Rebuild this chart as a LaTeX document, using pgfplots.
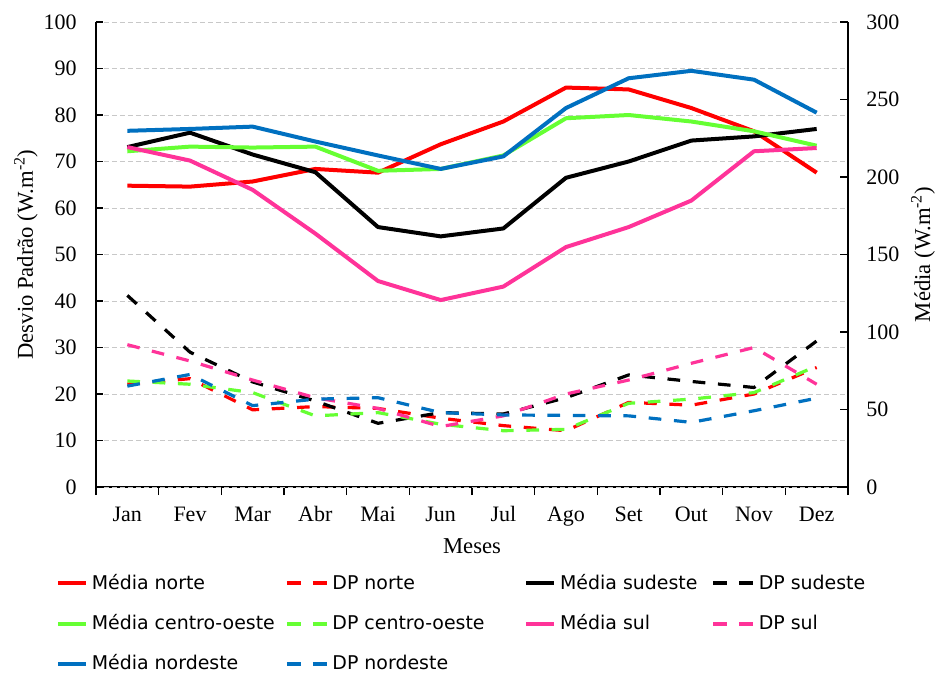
\documentclass[border=0pt]{standalone}
\usepackage{pgfplots}
\pgfplotsset{compat=1.18}
\usepackage{fontspec}
\setmainfont{Liberation Serif}
\newfontfamily\legfont{DejaVu Sans}
\definecolor{cRed}{RGB}{255,0,0}
\definecolor{cGreen}{RGB}{102,255,51}
\definecolor{cPink}{RGB}{255,51,153}
\definecolor{cBlue}{RGB}{0,112,192}
\definecolor{cGrid}{RGB}{200,200,200}
\pgfplotsset{
  base/.style={width=564pt, height=348.75pt, scale only axis, at={(0,0)}, anchor=south west,
    xmin=0.5, xmax=12.5, clip=false,
    axis line style={black, line width=1.1pt},
    every tick/.append style={black, line width=1pt},
    /pgf/number format/assume math mode=true,
    ticklabel style={font=\fontsize{16.5}{19}\selectfont, inner sep=0pt},
    label style={font=\fontsize{17}{20}\selectfont}},
  med/.style={line width=3pt, line join=round,
    legend image code/.code={\draw[##1] (0pt,0pt) -- (21pt,0pt);}},
  dp/.style={line width=2.4pt, line join=round, dash pattern=on 9.5pt off 9.5pt,
    legend image code/.code={\draw[##1, line width=3pt, dash pattern=on 10.5pt off 9pt] (0pt,0pt) -- (30pt,0pt);}},
}
\begin{document}
\begin{tikzpicture}
\useasboundingbox (-72pt,-141.75pt) rectangle (631.5pt,365.25pt);
% x axis
\begin{axis}[base, ymin=0, ymax=100, axis x line*=bottom, axis y line=none,
  xtick={1,...,12}, xticklabels={Jan,Fev,Mar,Abr,Mai,Jun,Jul,Ago,Set,Out,Nov,Dez},
  minor xtick={0.5,1.5,...,12.5}, tick align=outside, major tick length=0pt, minor tick length=6pt,
  xticklabel style={anchor=base, yshift=-25.5pt},
  xlabel={Meses}, xlabel style={at={(axis description cs:0.5,0)}, anchor=base, yshift=-49.5pt}]
\addplot[draw=none] coordinates {(1,0)};
\end{axis}
% left axis: DP
\begin{axis}[base, ymin=0, ymax=100, axis y line*=left, axis x line=none,
  tick align=inside, major tick length=5.5pt, ytick={0,10,...,100},
  ymajorgrids, grid style={cGrid, line width=0.75pt, dash pattern=on 3.75pt off 2.25pt},
  yticklabel style={anchor=east, xshift=-14.25pt},
  ylabel={Desvio Padrão (W.m\textsuperscript{-2})},
  ylabel style={at={([xshift=-47.25pt]axis description cs:0,0.5)}, anchor=base, rotate=0}]
\addplot[dp, cRed] coordinates {(1,22.1)(2,23.3)(3,16.6)(4,17.3)(5,16.9)(6,14.8)(7,13.2)(8,12.1)(9,18.2)(10,17.6)(11,20.0)(12,25.7)};
\addplot[dp, black] coordinates {(1,41.2)(2,29.0)(3,22.6)(4,18.5)(5,13.7)(6,16.0)(7,15.7)(8,19.2)(9,24.1)(10,22.7)(11,21.4)(12,31.4)};
\addplot[dp, cGreen] coordinates {(1,22.8)(2,22.1)(3,20.3)(4,15.3)(5,16.0)(6,13.5)(7,12.1)(8,12.4)(9,18.0)(10,18.9)(11,20.3)(12,26.0)};
\addplot[dp, cPink] coordinates {(1,30.6)(2,27.1)(3,23.0)(4,19.2)(5,16.9)(6,13.0)(7,15.3)(8,20.0)(9,23.0)(10,26.6)(11,30.0)(12,22.1)};
\addplot[dp, cBlue] coordinates {(1,21.7)(2,24.2)(3,17.5)(4,18.9)(5,19.2)(6,16.0)(7,15.5)(8,15.4)(9,15.3)(10,13.9)(11,16.4)(12,19.1)};
\end{axis}
% right axis: Media
\begin{axis}[base, ymin=0, ymax=300, axis y line*=right, axis x line=none,
  tick align=inside, major tick length=6pt, ytick={0,50,...,300},
  yticklabel style={anchor=west, xshift=13.5pt},
  ylabel={Média (W.m\textsuperscript{-2})},
  ylabel style={at={([xshift=61.5pt]axis description cs:1,0.5)}, anchor=base, rotate=0},
  legend columns=4, legend cell align=left,
  legend style={at={(-0.053,-0.1895)}, anchor=north west, draw=none, fill=none,
    inner sep=0pt, outer sep=0pt, font=\legfont\fontsize{14.2}{17}\selectfont,
    /tikz/column sep=0pt, /tikz/every odd column/.append style={column sep=2.75pt},
    /tikz/row sep=17.8pt, nodes={inner sep=0pt, text height=10.5pt, text depth=2pt}}]
\addlegendimage{med, cRed}\addlegendentry{\makebox[144.75pt][l]{Média norte}}
\addlegendimage{dp, cRed}\addlegendentry{\makebox[144pt][l]{DP norte}}
\addlegendimage{med, black}\addlegendentry{\makebox[113.25pt][l]{Média sudeste}}
\addlegendimage{dp, black}\addlegendentry{DP sudeste}
\addlegendimage{med, cGreen}\addlegendentry{\makebox[144.75pt][l]{Média centro-oeste}}
\addlegendimage{dp, cGreen}\addlegendentry{\makebox[144pt][l]{DP centro-oeste}}
\addlegendimage{med, cPink}\addlegendentry{\makebox[113.25pt][l]{Média sul}}
\addlegendimage{dp, cPink}\addlegendentry{DP sul}
\addlegendimage{med, cBlue}\addlegendentry{\makebox[144.75pt][l]{Média nordeste}}
\addlegendimage{dp, cBlue}\addlegendentry{\makebox[144pt][l]{DP nordeste}}
\addplot[med, cRed, forget plot] coordinates {(1,194.4)(2,193.8)(3,197.1)(4,205.2)(5,202.8)(6,221.1)(7,235.8)(8,257.7)(9,256.5)(10,244.5)(11,229.5)(12,202.8)};
\addplot[med, black, forget plot] coordinates {(1,219.3)(2,228.6)(3,214.5)(4,203.1)(5,167.7)(6,161.7)(7,166.8)(8,199.5)(9,210.0)(10,223.5)(11,226.2)(12,231.0)};
\addplot[med, cGreen, forget plot] coordinates {(1,216.6)(2,219.6)(3,219.0)(4,219.6)(5,204.0)(6,205.2)(7,213.9)(8,237.9)(9,240.0)(10,235.8)(11,229.5)(12,220.2)};
\addplot[med, cPink, forget plot] coordinates {(1,219.3)(2,210.6)(3,191.7)(4,163.5)(5,132.9)(6,120.6)(7,129.3)(8,154.8)(9,167.7)(10,184.8)(11,216.6)(12,218.7)};
\addplot[med, cBlue, forget plot] coordinates {(1,229.8)(2,231.0)(3,232.5)(4,222.9)(5,213.9)(6,205.2)(7,213.3)(8,244.5)(9,263.7)(10,268.5)(11,262.8)(12,241.5)};
\end{axis}
\end{tikzpicture}
\end{document}
